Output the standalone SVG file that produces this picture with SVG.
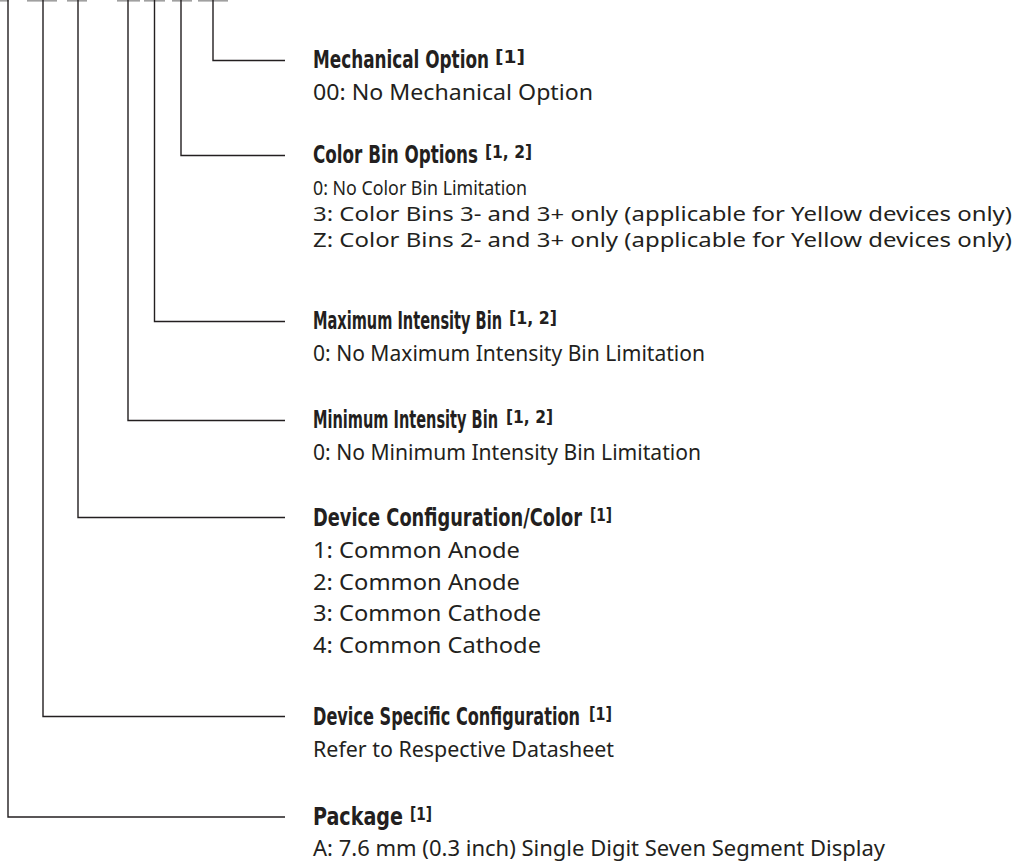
<svg xmlns="http://www.w3.org/2000/svg" width="1014" height="867" viewBox="0 0 1014 867">
<style>
.h{font-family:"Liberation Sans Narrow","DejaVu Sans Condensed","Liberation Sans",sans-serif;font-weight:bold;font-size:24px;fill:#231f20;font-stretch:condensed}
.s{font-size:17px}
.b{font-family:"Noto Sans","Open Sans","Liberation Sans",sans-serif;font-size:21px;fill:#231f20}
.bc{font-size:19px}
.c{fill:none;stroke:#231f20;stroke-width:1.4}
.d{fill:#a0a0a0}
</style>
<rect width="1014" height="867" fill="#ffffff"/>
<g id="slots">
<rect class="d" x="0" y="0" width="8.5" height="1.6"/>
<rect class="d" x="27" y="0" width="30" height="1.6"/>
<rect class="d" x="67" y="0" width="20" height="1.6"/>
<rect class="d" x="117" y="0" width="23" height="1.6"/>
<rect class="d" x="144" y="0" width="21" height="1.6"/>
<rect class="d" x="172" y="0" width="20" height="1.6"/>
<rect class="d" x="198" y="0" width="30" height="1.6"/>
</g>
<g id="connectors">
<path class="c" d="M213,0 V60.5 H285"/>
<path class="c" d="M181,0 V155.5 H285"/>
<path class="c" d="M154.5,0 V321.5 H285"/>
<path class="c" d="M128,0 V420.5 H285"/>
<path class="c" d="M78,0 V517.5 H285"/>
<path class="c" d="M43,0 V716.5 H285"/>
<path class="c" d="M8,0 V817 H285"/>
</g>
<g id="mechanical-option">
<text class="h" x="313" y="68"><tspan textLength="176" lengthAdjust="spacingAndGlyphs">Mechanical Option</tspan><tspan class="s" x="495" dy="-5" textLength="30" lengthAdjust="spacingAndGlyphs">[1]</tspan></text>
<text class="b" x="313" y="100" textLength="280" lengthAdjust="spacingAndGlyphs">00: No Mechanical Option</text>
</g>
<g id="color-bin-options">
<text class="h" x="313" y="163"><tspan textLength="165" lengthAdjust="spacingAndGlyphs">Color Bin Options</tspan><tspan class="s" x="485" dy="-5" textLength="47" lengthAdjust="spacingAndGlyphs">[1, 2]</tspan></text>
<text class="b bc" x="313" y="195" textLength="214" lengthAdjust="spacingAndGlyphs">0: No Color Bin Limitation</text>
<text class="b bc" x="313" y="221" textLength="699" lengthAdjust="spacingAndGlyphs">3: Color Bins 3- and 3+ only (applicable for Yellow devices only)</text>
<text class="b bc" x="313" y="247" textLength="699" lengthAdjust="spacingAndGlyphs">Z: Color Bins 2- and 3+ only (applicable for Yellow devices only)</text>
</g>
<g id="maximum-intensity-bin">
<text class="h" x="313" y="329"><tspan textLength="189" lengthAdjust="spacingAndGlyphs">Maximum Intensity Bin</tspan><tspan class="s" x="509" dy="-5" textLength="48" lengthAdjust="spacingAndGlyphs">[1, 2]</tspan></text>
<text class="b" x="313" y="361" textLength="392" lengthAdjust="spacingAndGlyphs">0: No Maximum Intensity Bin Limitation</text>
</g>
<g id="minimum-intensity-bin">
<text class="h" x="313" y="428"><tspan textLength="185" lengthAdjust="spacingAndGlyphs">Minimum Intensity Bin</tspan><tspan class="s" x="506" dy="-5" textLength="47" lengthAdjust="spacingAndGlyphs">[1, 2]</tspan></text>
<text class="b" x="313" y="460" textLength="388" lengthAdjust="spacingAndGlyphs">0: No Minimum Intensity Bin Limitation</text>
</g>
<g id="device-configuration-color">
<text class="h" x="313" y="526"><tspan textLength="269" lengthAdjust="spacingAndGlyphs">Device Configuration/Color</tspan><tspan class="s" x="590" dy="-5" textLength="22" lengthAdjust="spacingAndGlyphs">[1]</tspan></text>
<text class="b" x="313" y="558" textLength="207" lengthAdjust="spacingAndGlyphs">1: Common Anode</text>
<text class="b" x="313" y="590" textLength="207" lengthAdjust="spacingAndGlyphs">2: Common Anode</text>
<text class="b" x="313" y="621" textLength="228" lengthAdjust="spacingAndGlyphs">3: Common Cathode</text>
<text class="b" x="313" y="653" textLength="228" lengthAdjust="spacingAndGlyphs">4: Common Cathode</text>
</g>
<g id="device-specific-configuration">
<text class="h" x="313" y="725"><tspan textLength="267" lengthAdjust="spacingAndGlyphs">Device Specific Configuration</tspan><tspan class="s" x="589" dy="-5" textLength="23" lengthAdjust="spacingAndGlyphs">[1]</tspan></text>
<text class="b" x="313" y="757" textLength="301" lengthAdjust="spacingAndGlyphs">Refer to Respective Datasheet</text>
</g>
<g id="package">
<text class="h" x="313" y="825"><tspan textLength="90" lengthAdjust="spacingAndGlyphs">Package</tspan><tspan class="s" x="410" dy="-5" textLength="22" lengthAdjust="spacingAndGlyphs">[1]</tspan></text>
<text class="b" x="313" y="856" textLength="572" lengthAdjust="spacingAndGlyphs">A: 7.6 mm (0.3 inch) Single Digit Seven Segment Display</text>
</g>
</svg>
